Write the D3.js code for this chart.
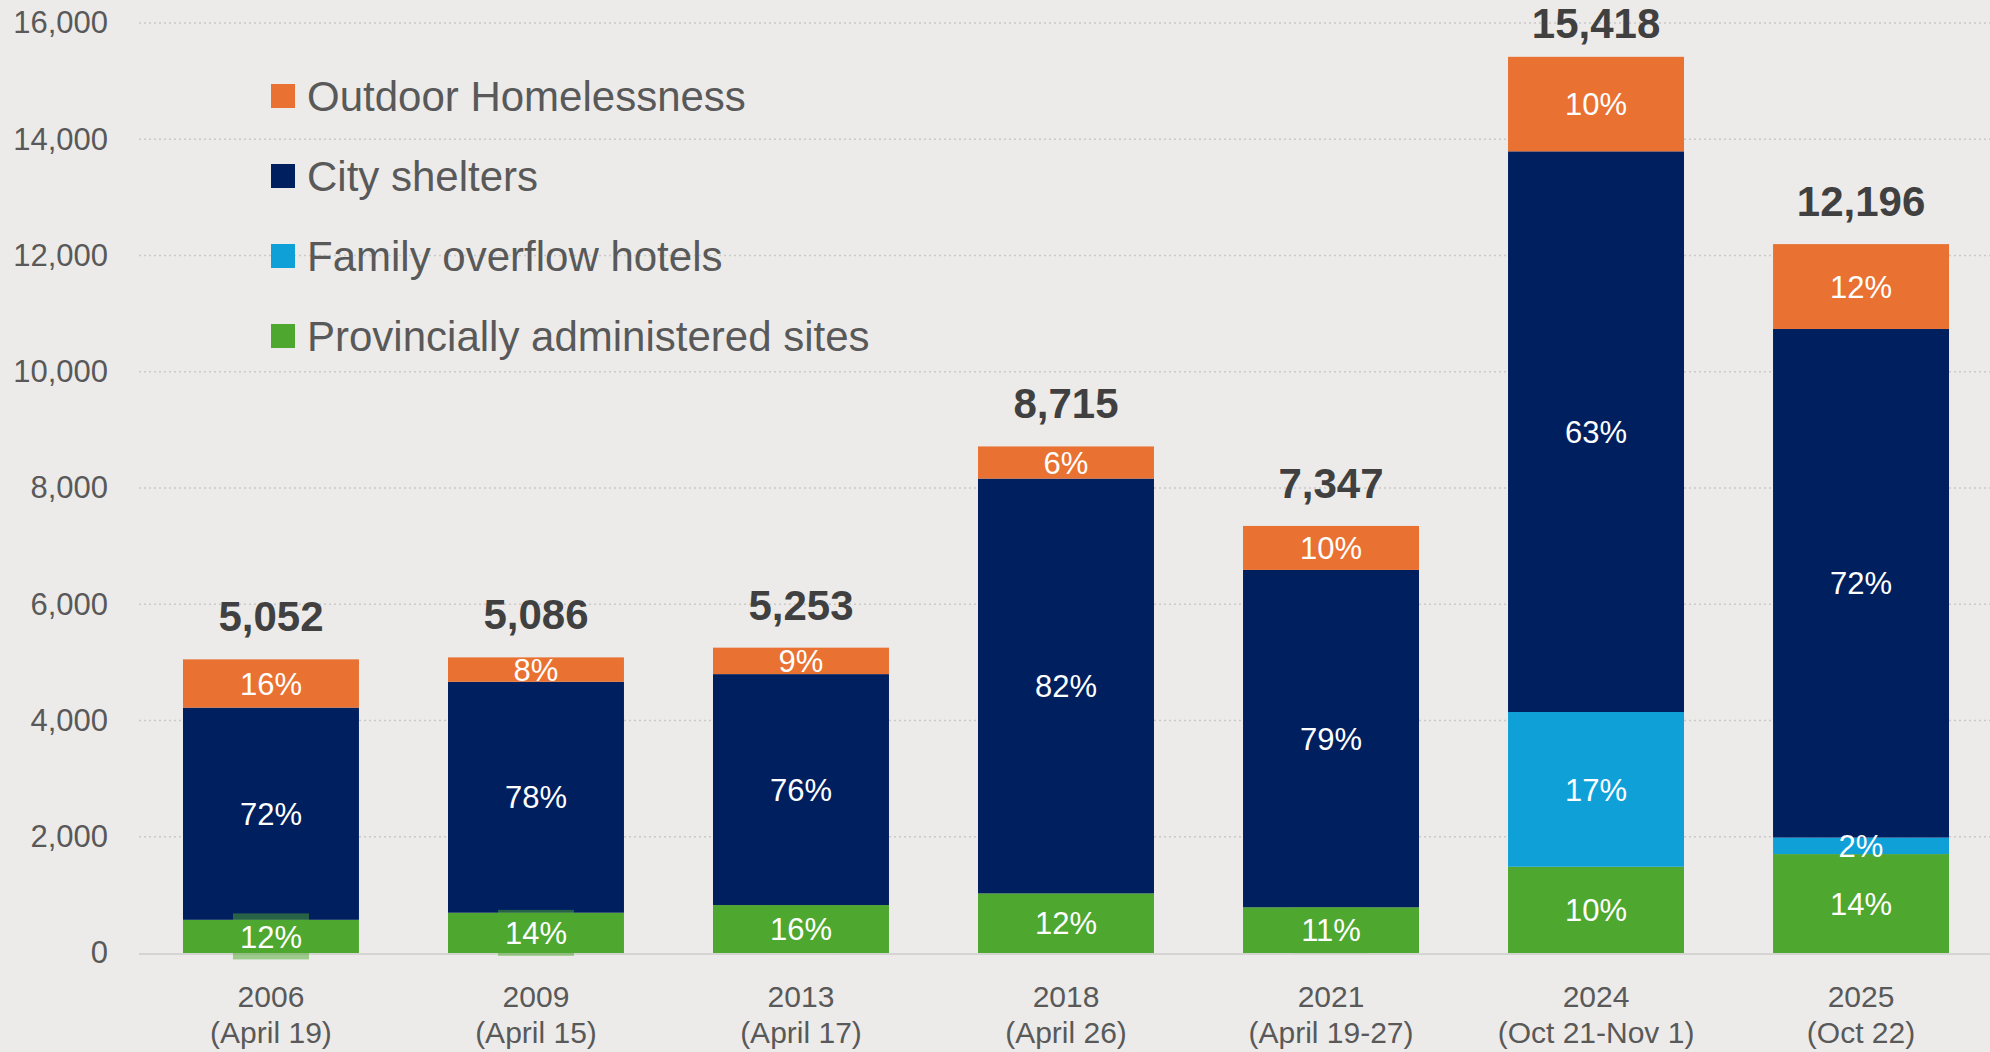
<!DOCTYPE html>
<html>
<head>
<meta charset="utf-8">
<script src="https://cdn.jsdelivr.net/npm/d3@7"></script>
<style>
  body { margin: 0; background: #ecebe9; }
  svg { display: block; font-family: "Liberation Sans", Arial, sans-serif; }
  .tick text { fill: #595959; }
</style>
</head>
<body>
<div id="chart"></div>
<script>
// data
var years = ["2006", "2009", "2013", "2018", "2021", "2024", "2025"];
var dates = ["(April 19)", "(April 15)", "(April 17)", "(April 26)", "(April 19-27)", "(Oct 21-Nov 1)", "(Oct 22)"];
var totals = [5052, 5086, 5253, 8715, 7347, 15418, 12196];

var provincial = [571, 693, 825, 1025, 786, 1484, 1702];
var family = [0, 0, 0, 0, 0, 2662, 284];
var city = [3651, 3973, 3973, 7137, 5804, 9646, 8750];
var outdoor = [830, 420, 455, 553, 757, 1626, 1460];

var provincialPct = ["12%", "14%", "16%", "12%", "11%", "10%", "14%"];
var familyPct = ["", "", "", "", "", "17%", "2%"];
var cityPct = ["72%", "78%", "76%", "82%", "79%", "63%", "72%"];
var outdoorPct = ["16%", "8%", "9%", "6%", "10%", "10%", "12%"];

var yTicks = [0, 2000, 4000, 6000, 8000, 10000, 12000, 14000, 16000];

var seriesNames = ["Outdoor Homelessness", "City shelters", "Family overflow hotels", "Provincially administered sites"];
var seriesColors = ["#E97132", "#001F5F", "#0FA0D8", "#4EA72E"];

var svgWidth = 1990;
var svgHeight = 1052;

var svg = d3.select("#chart")
  .append("svg")
  .attr("width", svgWidth)
  .attr("height", svgHeight);

svg.append("rect")
  .attr("width", svgWidth)
  .attr("height", svgHeight)
  .attr("fill", "#ecebe9");

// build rows for the stack
var rows = years.map(function(y, i) {
  return {
    year: y,
    provincial: provincial[i],
    family: family[i],
    city: city[i],
    outdoor: outdoor[i],
    pct: {
      provincial: provincialPct[i],
      family: familyPct[i],
      city: cityPct[i],
      outdoor: outdoorPct[i]
    }
  };
});
var keys = ["provincial", "family", "city", "outdoor"];
var keyColor = {
  provincial: seriesColors[3],
  family: seriesColors[2],
  city: seriesColors[1],
  outdoor: seriesColors[0]
};

var x = d3.scaleBand()
  .domain(years)
  .range([139, 1993])
  .paddingInner(0.336)
  .paddingOuter(0.166);

var y = d3.scaleLinear()
  .domain([0, 16000])
  .range([953, 23]);

// gridlines
svg.append("g")
  .selectAll("line")
  .data(yTicks.filter(function(d) { return d > 0; }))
  .enter()
  .append("line")
  .attr("x1", 139)
  .attr("x2", svgWidth)
  .attr("y1", function(d) { return y(d); })
  .attr("y2", function(d) { return y(d); })
  .attr("stroke", "#c9c9c7")
  .attr("stroke-width", 1.5)
  .attr("stroke-dasharray", "2,3");

// y axis labels
var leftAxis = d3.axisLeft(y)
  .tickValues(yTicks)
  .tickSize(0)
  .tickPadding(0)
  .tickFormat(d3.format(","));

var yAxis = svg.append("g")
  .attr("transform", "translate(108,0)")
  .call(leftAxis);
yAxis.select(".domain").remove();
yAxis.selectAll("text")
  .attr("font-size", 31)
  .attr("font-family", "Liberation Sans, Arial, sans-serif");

var stack = d3.stack().keys(keys);
var stacked = stack(rows);

var layers = svg.append("g")
  .selectAll("g")
  .data(stacked)
  .enter()
  .append("g")
  .attr("fill", function(d) { return keyColor[d.key]; });

layers.selectAll("rect")
  .data(function(d) { return d; })
  .enter()
  .append("rect")
  .attr("x", function(d) { return x(d.data.year); })
  .attr("width", x.bandwidth())
  .attr("y", function(d) { return y(d[1]); })
  .attr("height", function(d) { return y(d[0]) - y(d[1]); });

// baseline
svg.append("line")
  .attr("x1", 139)
  .attr("x2", svgWidth)
  .attr("y1", y(0) + 1)
  .attr("y2", y(0) + 1)
  .attr("stroke", "#d4d4d2")
  .attr("stroke-width", 2);

// label boxes behind the provincial labels (they spill out of short segments)
var provLayer = stacked[0];
svg.append("g")
  .selectAll("rect")
  .data(provLayer)
  .enter()
  .append("rect")
  .attr("x", function(d) { return x(d.data.year) + x.bandwidth() / 2 - 38; })
  .attr("width", 76)
  .attr("y", function(d) { return (y(d[0]) + y(d[1])) / 2 - 23; })
  .attr("height", 46)
  .attr("fill", seriesColors[3])
  .attr("opacity", 0.5);

// percent labels
stacked.forEach(function(layer) {
  svg.append("g")
    .selectAll("text")
    .data(layer.filter(function(d) { return d.data.pct[layer.key] !== ""; }))
    .enter()
    .append("text")
    .attr("x", function(d) { return x(d.data.year) + x.bandwidth() / 2; })
    .attr("y", function(d) { return (y(d[0]) + y(d[1])) / 2; })
    .attr("dy", "0.36em")
    .attr("text-anchor", "middle")
    .attr("font-size", 31)
    .attr("fill", "#ffffff")
    .text(function(d) { return d.data.pct[layer.key]; });
});

// totals above bars
svg.append("g")
  .selectAll("text")
  .data(totals)
  .enter()
  .append("text")
  .attr("x", function(d, i) { return x(years[i]) + x.bandwidth() / 2; })
  .attr("y", function(d) { return Math.max(y(d) - 28, 38); })
  .attr("text-anchor", "middle")
  .attr("font-size", 42)
  .attr("font-weight", "bold")
  .attr("fill", "#404040")
  .text(function(d) { return d3.format(",")(d); });

// x labels
var xl = svg.append("g")
  .selectAll("text")
  .data(years)
  .enter()
  .append("text")
  .attr("text-anchor", "middle")
  .attr("font-size", 30)
  .attr("fill", "#595959");
xl.append("tspan")
  .attr("x", function(d) { return x(d) + x.bandwidth() / 2; })
  .attr("y", 1007)
  .text(function(d) { return d; });
xl.append("tspan")
  .attr("x", function(d) { return x(d) + x.bandwidth() / 2; })
  .attr("y", 1043)
  .text(function(d, i) { return dates[i]; });

// legend
var legend = svg.append("g")
  .selectAll("g")
  .data(seriesNames)
  .enter()
  .append("g")
  .attr("transform", function(d, i) { return "translate(271," + (96 + i * 80) + ")"; });

legend.append("rect")
  .attr("x", 0)
  .attr("y", -12)
  .attr("width", 24)
  .attr("height", 24)
  .attr("fill", function(d, i) { return seriesColors[i]; });

legend.append("text")
  .attr("x", 36)
  .attr("dy", "0.36em")
  .attr("font-size", 42)
  .attr("fill", "#595959")
  .text(function(d) { return d; });
</script>
</body>
</html>
